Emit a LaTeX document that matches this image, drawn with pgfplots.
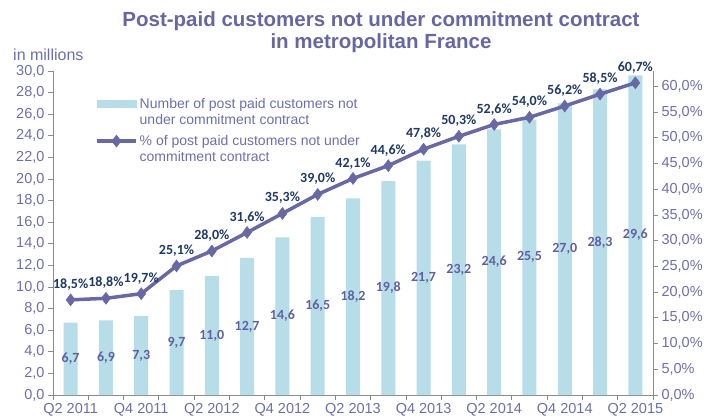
\documentclass[border=0pt]{standalone}
\usepackage{pgfplots}
\pgfplotsset{compat=1.18}
\usepackage{pgfplotstable}
\usepackage{fontspec}
\setmainfont{Liberation Sans}
\newfontfamily\lblfont{Carlito}

\definecolor{titlecol}{RGB}{102,102,163}
\definecolor{tickcol}{RGB}{110,110,170}
\definecolor{barcol}{RGB}{182,221,232}
\definecolor{linecol}{RGB}{104,104,164}
\definecolor{pctcol}{RGB}{31,56,100}
\definecolor{barlbl}{RGB}{96,96,160}
\definecolor{axisgray}{RGB}{140,140,140}

\pgfplotstableread{
x n p
0 6.7 18.5
1 6.9 18.8
2 7.3 19.7
3 9.7 25.1
4 11.0 28.0
5 12.7 31.6
6 14.6 35.3
7 16.5 39.0
8 18.2 42.1
9 19.8 44.6
10 21.7 47.8
11 23.2 50.3
12 24.6 52.6
13 25.5 54.0
14 27.0 56.2
15 28.3 58.5
16 29.6 60.7
}\data

\pgfplotsset{
  common/.style={
    at={(53pt,20pt)}, anchor=south west,
    scale only axis, width=600pt, height=324pt,
    xmin=-0.5, xmax=16.5, ymin=0,
    axis line style={draw=axisgray, line width=1pt, -},
    tick style={draw=axisgray, line width=0.8pt},
    tick align=outside, major tick length=5pt, minor tick length=5pt,
    ticklabel style={font=\fontsize{14.5}{16}\selectfont, text=tickcol},
    /pgf/number format/assume math mode=true,
  },
  % legend images sit beside the first line of each two-line entry
  lineleg/.style={
    legend image code/.code={
      \path[draw=none, fill=none] (0pt,-14.3pt) -- (0pt,14.3pt);
      \draw[mark repeat=2, mark phase=2, ##1] plot coordinates {(0pt,8pt) (19.5pt,8pt) (39pt,8pt)};}
  },
  barleg/.style={
    legend image code/.code={
      \path[draw=none, fill=none] (0pt,-11.5pt) -- (0pt,11.5pt);
      \fill[barcol] (0pt,4.5pt) rectangle (39pt,11.5pt);}
  },
}

\begin{document}
\begin{tikzpicture}
\useasboundingbox (0,0) rectangle (706pt,415pt);
\clip (0,0) rectangle (706pt,415pt);

\node[font=\fontsize{20.5}{22}\selectfont\bfseries, text=titlecol, align=center] at (381pt,383pt)
  {Post-paid customers not under commitment contract\\in metropolitan France};
\node[anchor=base west, inner sep=0pt, font=\fontsize{16}{18}\selectfont, text=tickcol] at (13pt,354pt) {in millions};

\begin{axis}[common,
    ymax=30,
    axis x line*=bottom, axis y line*=left,
    ytick={0,2,...,30},
    yticklabel style={/pgf/number format/.cd, fixed, fixed zerofill, precision=1, use comma, assume math mode=true},
    xtick={0,2,...,16},
    xticklabels={Q2 2011,Q4 2011,Q2 2012,Q4 2012,Q2 2013,Q4 2013,Q2 2014,Q4 2014,Q2 2015},
    minor xtick={-0.5,0.5,...,16.5},
    major x tick style={draw=none},
]
\addplot[ybar, bar width=14pt, fill=barcol, draw=none] table[x=x, y=n] {\data};
\addplot[draw=none, mark=none, nodes near coords, point meta=explicit,
    every node near coord/.append style={anchor=center, font=\lblfont\bfseries\fontsize{14}{15}\selectfont, text=barlbl,
      /pgf/number format/.cd, fixed, fixed zerofill, precision=1, use comma, assume math mode=true}]
    table[x=x, y expr=\thisrow{n}/2, meta=n] {\data};
\end{axis}

\begin{axis}[common,
    ymax=63,
    axis x line=none, axis y line*=right,
    ytick={0,5,...,60},
    yticklabel={\pgfmathprintnumber[fixed, fixed zerofill, precision=1, use comma, assume math mode=true]{\tick}\%},
    legend cell align=left,
    legend style={at={(axis description cs:0.065,0.93)}, anchor=north west, draw=none, fill=none,
      font=\fontsize{14}{16.5}\selectfont, text=tickcol, cells={align=left}, row sep=5pt},
]
\addlegendimage{barleg}
\addlegendentry{Number of post paid customers not\\under commitment contract}
\addplot[linecol, line width=3.5pt, mark=diamond*, mark size=6pt, mark options={solid, line width=0.5pt},
    lineleg,
    nodes near coords={\pgfmathprintnumber[fixed, fixed zerofill, precision=1, use comma, assume math mode=true]{\pgfplotspointmeta}\%},
    point meta=explicit,
    every node near coord/.append style={font=\lblfont\bfseries\fontsize{14}{15}\selectfont, text=pctcol, yshift=6pt}]
    table[x=x, y=p, meta=p] {\data};
\addlegendentry{\% of post paid customers not under\\commitment contract}
\end{axis}
\end{tikzpicture}
\end{document}
